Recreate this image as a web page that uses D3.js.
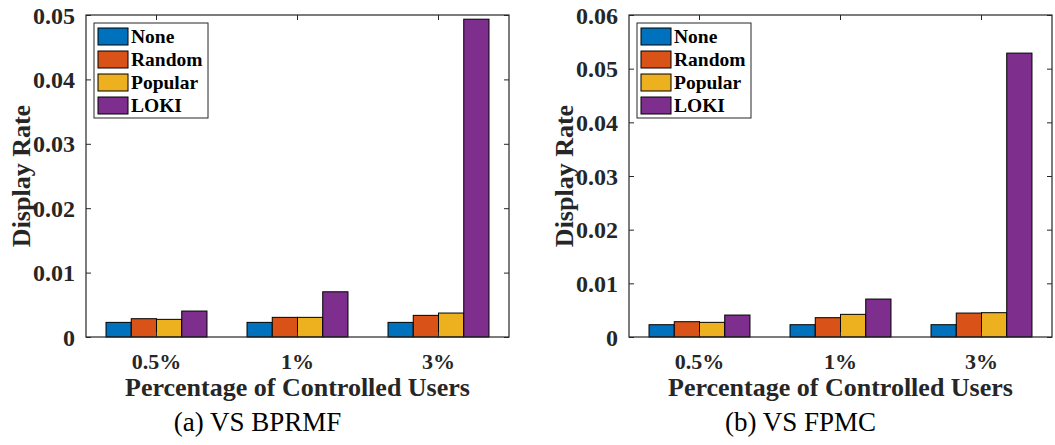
<!DOCTYPE html>
<html lang="en">
<head>
    <meta charset="UTF-8">
    <title>Display Rate</title>
    <script src="https://d3js.org/d3.v7.min.js"></script>
    <style>
        body {
            margin: 0;
            background-color: #ffffff;
        }
        svg text {
            font-family: "Liberation Serif", "Times New Roman", serif;
        }
    </style>
</head>
<body>
    <div id="chart"></div>

    <script>
        // Categories and series
        const categories = ["0.5%", "1%", "3%"];
        const seriesNames = ["None", "Random", "Popular", "LOKI"];
        const seriesColors = ["#0072BD", "#D95319", "#EDB120", "#7E2F8E"];

        // (a) VS BPRMF
        const bprmfNone    = [0.00227, 0.00227, 0.00227];
        const bprmfRandom  = [0.00284, 0.00305, 0.00336];
        const bprmfPopular = [0.00274, 0.00305, 0.00372];
        const bprmfLoki    = [0.00403, 0.00702, 0.04935];
        const bprmfTicks   = [0, 0.01, 0.02, 0.03, 0.04, 0.05];

        // (b) VS FPMC
        const fpmcNone    = [0.00229, 0.00229, 0.00229];
        const fpmcRandom  = [0.00285, 0.00360, 0.00446];
        const fpmcPopular = [0.00273, 0.00422, 0.00453];
        const fpmcLoki    = [0.00409, 0.00707, 0.05290];
        const fpmcTicks   = [0, 0.01, 0.02, 0.03, 0.04, 0.05, 0.06];

        const svg = d3.select('#chart')
            .append('svg')
            .attr('width', 1055)
            .attr('height', 445);

        function drawPanel(left, series, ticks, caption) {
            const top = 15, bottom = 337, width = 423;
            const g = svg.append('g');

            const x = d3.scaleBand()
                .domain(categories)
                .range([left, left + width]);

            const inner = d3.scaleBand()
                .domain(seriesNames)
                .range([0, x.bandwidth() * 0.716]);

            const y = d3.scaleLinear()
                .domain([0, d3.max(ticks)])
                .range([bottom, top]);

            // bars
            series.forEach((vals, si) => {
                g.selectAll(null)
                    .data(vals)
                    .enter()
                    .append('rect')
                    .attr('x', (d, i) => x(categories[i]) + x.bandwidth() * 0.142 + inner(seriesNames[si]))
                    .attr('y', d => y(d))
                    .attr('width', inner.bandwidth())
                    .attr('height', d => y(0) - y(d))
                    .attr('fill', seriesColors[si])
                    .attr('stroke', '#000')
                    .attr('stroke-width', 1);
            });

            // box
            g.append('rect')
                .attr('x', left)
                .attr('y', top)
                .attr('width', width)
                .attr('height', bottom - top)
                .attr('fill', 'none')
                .attr('stroke', '#262626')
                .attr('stroke-width', 1.2);

            // y axis (left) and inward ticks on right
            const yAxis = g.append('g')
                .attr('transform', `translate(${left},0)`)
                .call(d3.axisLeft(y).tickValues(ticks).tickSize(-5).tickPadding(11)
                    .tickFormat(d => d === 0 ? '0' : d3.format('.2f')(d)));
            yAxis.select('.domain').remove();
            yAxis.selectAll('line').attr('stroke', '#262626');
            yAxis.selectAll('text')
                .attr('font-size', 24)
                .attr('font-weight', 'bold')
                .attr('fill', '#262626')
                .attr('dy', '0.34em');

            const yRight = g.append('g')
                .attr('transform', `translate(${left + width},0)`)
                .call(d3.axisRight(y).tickValues(ticks).tickSize(-5).tickFormat(''));
            yRight.select('.domain').remove();
            yRight.selectAll('line').attr('stroke', '#262626');

            // x axis
            const xAxis = g.append('g')
                .attr('transform', `translate(0,${bottom})`)
                .call(d3.axisBottom(x).tickSize(-5).tickPadding(16));
            xAxis.select('.domain').remove();
            xAxis.selectAll('line').attr('stroke', '#262626');
            xAxis.selectAll('text')
                .attr('font-size', 22)
                .attr('font-weight', 'bold')
                .attr('fill', '#262626');

            const xTop = g.append('g')
                .attr('transform', `translate(0,${top})`)
                .call(d3.axisTop(x).tickSize(-5).tickFormat(''));
            xTop.select('.domain').remove();
            xTop.selectAll('line').attr('stroke', '#262626');

            // axis labels
            g.append('text')
                .attr('x', left + width / 2)
                .attr('y', 396)
                .attr('text-anchor', 'middle')
                .attr('font-size', 26)
                .attr('font-weight', 'bold')
                .attr('fill', '#262626')
                .text('Percentage of Controlled Users');

            g.append('text')
                .attr('transform', `translate(${left - 56},${(top + bottom) / 2}) rotate(-90)`)
                .attr('text-anchor', 'middle')
                .attr('font-size', 26)
                .attr('font-weight', 'bold')
                .attr('fill', '#262626')
                .text('Display Rate');

            // caption
            g.append('text')
                .attr('x', left + width / 2 - 40)
                .attr('y', 431)
                .attr('text-anchor', 'middle')
                .attr('font-size', 27)
                .attr('fill', '#000')
                .text(caption);

            // legend
            const lg = g.append('g')
                .attr('transform', `translate(${left + 8},23)`);
            lg.append('rect')
                .attr('width', 114)
                .attr('height', 95)
                .attr('fill', '#fff')
                .attr('stroke', '#262626')
                .attr('stroke-width', 1);
            seriesNames.forEach((name, i) => {
                lg.append('rect')
                    .attr('x', 4)
                    .attr('y', 5 + i * 23)
                    .attr('width', 30)
                    .attr('height', 17)
                    .attr('fill', seriesColors[i])
                    .attr('stroke', '#000')
                    .attr('stroke-width', 1);
                lg.append('text')
                    .attr('x', 37)
                    .attr('y', 20 + i * 23)
                    .attr('font-size', 19.5)
                    .attr('font-weight', 'bold')
                    .attr('fill', '#000')
                    .text(name);
            });
        }

        drawPanel(86, [bprmfNone, bprmfRandom, bprmfPopular, bprmfLoki], bprmfTicks, '(a) VS BPRMF');
        drawPanel(629, [fpmcNone, fpmcRandom, fpmcPopular, fpmcLoki], fpmcTicks, '(b) VS FPMC');
    </script>
</body>
</html>
